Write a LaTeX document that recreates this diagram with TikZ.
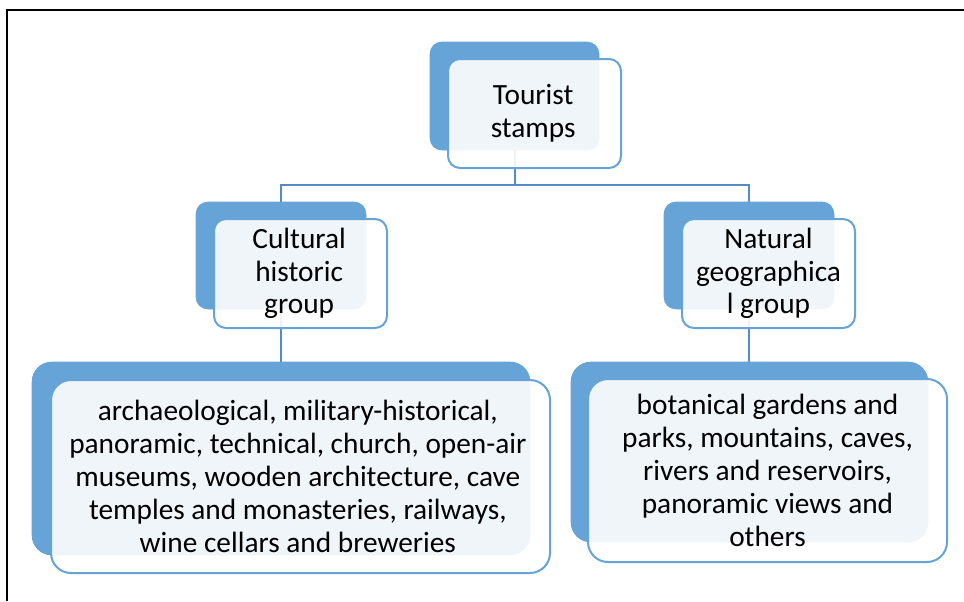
\documentclass[tikz,border=0pt]{standalone}
\usepackage{fontspec}
\setmainfont{Carlito}
\usetikzlibrary{fit}
\definecolor{boxblue}{RGB}{102,163,214}
\definecolor{lineblue}{RGB}{84,140,200}
\tikzset{
  backbox/.style={fill=boxblue, draw=none, inner sep=0pt, rounded corners=9pt},
  backboxL/.style={backbox, rounded corners=15pt},
  frontbox/.style={draw=boxblue, line width=1.5pt, fill=white, fill opacity=0.9,
    inner sep=0pt, rounded corners=9pt},
  frontboxL/.style={frontbox, rounded corners=15pt},
  label/.style={align=center, inner sep=0pt, font=\fontsize{22}{24.6}\selectfont},
  conn/.style={draw=lineblue, line width=1.5pt},
  frame/.style={draw=black, line width=1.5pt}
}
\begin{document}
\begin{tikzpicture}[x=0.75pt,y=-0.75pt]
\useasboundingbox (0,0) rectangle (964,601);
% frame
\coordinate (f1) at (7,601);
\coordinate (f2) at (7,10);
\coordinate (f3) at (964,10);
\draw[frame] (f1) -- (f2) -- (f3);
% back boxes (positions only, drawn later)
\path node[backbox, fit={(430,42) (599,150)}] (topb) {}
      node[backbox, fit={(196,202) (366,309)}] (culb) {}
      node[backbox, fit={(664,202) (834,309)}] (natb) {}
      node[backboxL, fit={(32,362) (530,555)}] (leftb) {}
      node[backboxL, fit={(571,362) (928,542)}] (rightb) {};
% connectors
\coordinate (hy) at (0,185);
\draw[conn] (topb.south) -- (topb.south |- hy) -| (culb.north);
\draw[conn] (topb.south |- hy) -| (natb.north);
\draw[conn] (culb.south) -- (leftb.north);
\draw[conn] (natb.south) -- (natb.south |- rightb.north);
% back boxes drawn over connectors
\fill[boxblue, rounded corners=9pt] (topb.south west) rectangle (topb.north east);
\fill[boxblue, rounded corners=9pt] (culb.south west) rectangle (culb.north east);
\fill[boxblue, rounded corners=9pt] (natb.south west) rectangle (natb.north east);
\fill[boxblue, rounded corners=15pt] (leftb.south west) rectangle (leftb.north east);
\fill[boxblue, rounded corners=15pt] (rightb.south west) rectangle (rightb.north east);
% front boxes
\node[frontbox, fit={(448,59) (621,168)}] (top) {};
\node[frontbox, fit={(214,219) (387,328)}] (cul) {};
\node[frontbox, fit={(682,219) (855,328)}] (nat) {};
\node[frontboxL, fit={(51,380) (550,573)}] (left) {};
\node[frontboxL, fit={(588,379) (947,562)}] (right) {};
% texts
\node[label] (topt) at ([xshift=-1pt]top.center) {Tourist\\stamps};
\node[label] (cult) at ([xshift=-1pt]cul.center) {Cultural\\historic\\group};
\node[label] (natt) at (nat.center) {Natural\\geographica\\l group};
\node[label] (leftt) at ([xshift=-2pt]left.center) {archaeological, military-historical,\\panoramic, technical, church, open-air\\museums, wooden architecture, cave\\temples and monasteries, railways,\\wine cellars and breweries};
\node[label] (rightt) at (right.center) {botanical gardens and\\parks, mountains, caves,\\rivers and reservoirs,\\panoramic views and\\others};
\end{tikzpicture}
\end{document}
